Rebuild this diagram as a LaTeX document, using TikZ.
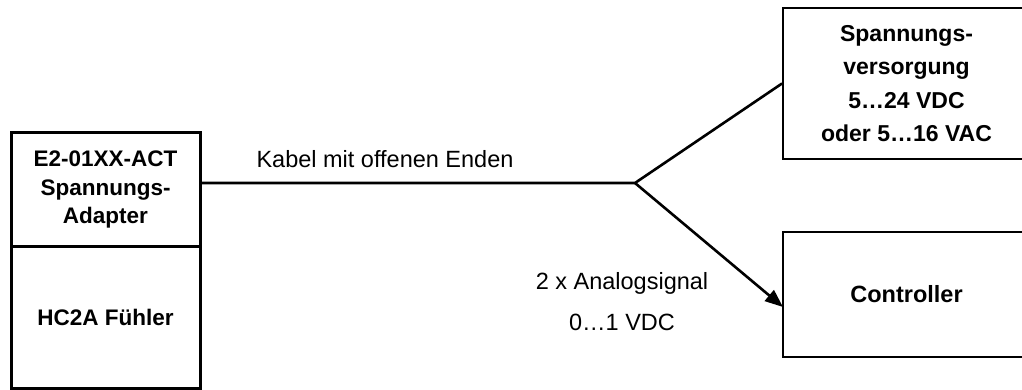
\documentclass[tikz,border=0pt]{standalone}
\usepackage{fontspec}
\setmainfont{Liberation Sans}
\usetikzlibrary{arrows.meta,calc}
\begin{document}
\begin{tikzpicture}[x=1pt,y=-1pt,
  lbox/.style={draw,line width=3pt,rectangle,inner sep=0pt,align=center,
    font=\fontsize{22.5}{28.5}\selectfont\bfseries},
  rbox/.style={draw,line width=2pt,rectangle,inner sep=0pt,align=center,
    font=\fontsize{23}{33.5}\selectfont\bfseries},
  wire/.style={line width=2.6pt},
  lbl/.style={inner sep=0pt,font=\fontsize{23.5}{41}\selectfont,align=center}]
\useasboundingbox (0,0) rectangle (1022,390);
\clip (0,0) rectangle (1022,390);
\node[lbox,minimum width=189pt,minimum height=113pt] (adapter) at (105.5,189.5)
  {E2-01XX-ACT\\Spannungs-\\Adapter};
\node[lbox,minimum width=189pt,minimum height=142pt] (fuehler) at (105.5,317)
  {HC2A Fühler};
\node[rbox,minimum width=247pt,minimum height=151pt] (psu) at (906.5,83.5)
  {Spannungs-\\versorgung\\5…24 VDC\\oder 5…16 VAC};
\node[rbox,minimum width=247pt,minimum height=125pt,font=\fontsize{23.5}{30}\selectfont\bfseries] (ctrl) at (906.5,294.5)
  {Controller};
\coordinate (j) at (635,183);
\coordinate (ctrlin) at (783,307);
\draw[wire] (adapter.east |- j) -- (j) -- (psu.west);
\draw[wire,-{Triangle[length=18pt,width=14pt]}] (j) -- (ctrlin);
\node[lbl] (cable) at (385,159) {Kabel mit offenen Enden};
\node[lbl] (signal) at (622,302) {2 x Analogsignal\\0…1 VDC};
\end{tikzpicture}
\end{document}
